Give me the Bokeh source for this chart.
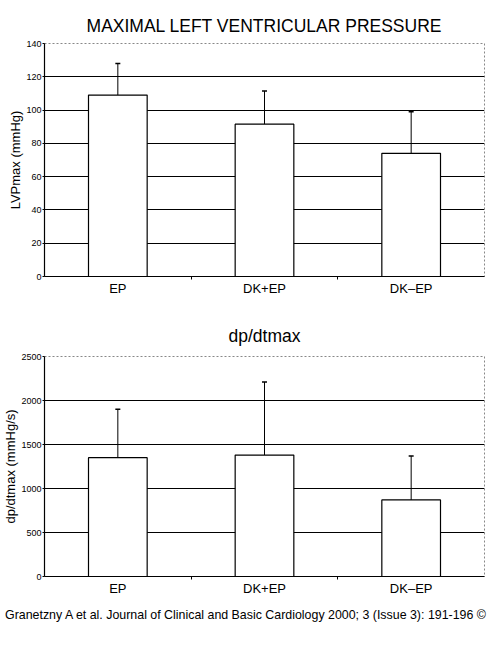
from bokeh.plotting import figure
from bokeh.models import Range1d, FixedTicker, Whisker, TeeHead, ColumnDataSource, Div
from bokeh.layouts import column
from bokeh.embed import file_html
from bokeh.resources import INLINE
import numpy as np

categories = ["EP", "DK+EP", "DK\u2013EP"]

# maximal left ventricular pressure (mmHg)
lvp_mean = [109, 91.5, 74]
lvp_sd = [19, 20, 25]

# dp/dtmax (mmHg/s)
dpdt_mean = [1350, 1380, 870]
dpdt_sd = [550, 830, 500]

FONT = "Liberation Sans"


def bar_chart(title, ylabel, means, sds, ymax, ystep, height, border_top, title_gap, border_left, border_right):
	xs = np.arange(len(categories)) + 0.5
	src = ColumnDataSource(dict(x=xs, top=means, upper=np.array(means) + np.array(sds)))

	p = figure(width=486, height=height, output_backend="svg", toolbar_location=None,
			   x_range=Range1d(0, len(categories)), y_range=Range1d(0, ymax),
			   min_border_top=border_top, min_border_left=border_left,
			   min_border_right=border_right, min_border_bottom=30)
	p.title.text = title
	p.title.align = "center"
	p.title.text_font = FONT
	p.title.text_font_size = "17.5px"
	p.title.text_font_style = "normal"
	p.title.text_color = "black"
	p.title.standoff = title_gap

	p.vbar(x="x", top="top", bottom=0, width=0.4, source=src,
		   fill_color="white", line_color="black", line_width=1.2)
	p.add_layout(Whisker(source=src, base="x", lower="top", upper="upper",
						 line_color="black", line_width=1,
						 lower_head=None,
						 upper_head=TeeHead(size=5, line_color="black", line_width=1.5)))

	p.xaxis.ticker = FixedTicker(ticks=list(xs), minor_ticks=[1, 2])
	p.xaxis.major_label_overrides = {float(x): c for x, c in zip(xs, categories)}
	p.xaxis.major_tick_line_color = None
	p.xaxis.major_tick_in = 0
	p.xaxis.major_tick_out = 0
	p.xaxis.minor_tick_in = 0
	p.xaxis.minor_tick_out = 3
	p.xaxis.major_label_text_font = FONT
	p.xaxis.major_label_text_font_size = "13px"
	p.xaxis.major_label_text_color = "black"
	p.xaxis.major_label_standoff = 1
	p.xaxis.axis_label_standoff = 0
	p.xaxis.axis_line_color = "black"
	p.xaxis.axis_line_width = 1.2

	p.yaxis.ticker = FixedTicker(ticks=list(range(0, ymax + 1, ystep)))
	p.yaxis.minor_tick_line_color = None
	p.yaxis.major_tick_in = 0
	p.yaxis.major_tick_out = 2
	p.yaxis.major_label_text_font = FONT
	p.yaxis.major_label_text_font_size = "9px"
	p.yaxis.major_label_text_color = "black"
	p.yaxis.major_label_standoff = 1
	p.yaxis.axis_label = ylabel
	p.yaxis.axis_label_text_font = FONT
	p.yaxis.axis_label_text_font_size = "13px"
	p.yaxis.axis_label_text_font_style = "normal"
	p.yaxis.axis_label_text_color = "black"
	p.yaxis.axis_label_standoff = 0
	p.yaxis.axis_line_color = "black"
	p.yaxis.axis_line_width = 1.2

	p.xgrid.grid_line_color = None
	p.ygrid.grid_line_color = "black"
	p.ygrid.grid_line_width = 1.2
	p.outline_line_color = "#888888"
	p.outline_line_dash = "2 2"
	return p


p1 = bar_chart("MAXIMAL LEFT VENTRICULAR PRESSURE", "LVPmax (mmHg)",
			   lvp_mean, lvp_sd, 140, 20, 306, 43, 16, 35, 2)
p2 = bar_chart("dp/dtmax", "dp/dtmax (mmHg/s)",
			   dpdt_mean, dpdt_sd, 2500, 500, 300, 50, 21, 38, 1)

note = Div(text="Granetzny A et al. Journal of Clinical and Basic Cardiology 2000; 3 (Issue 3): 191-196 &copy;",
		   width=486, height=14,
		   styles={"font-family": FONT, "font-size": "12.4px", "color": "black",
				   "line-height": "9px", "white-space": "nowrap"})

p = column(p1, p2, note, spacing=0)
open("out.html", "w").write(file_html(p, INLINE))
